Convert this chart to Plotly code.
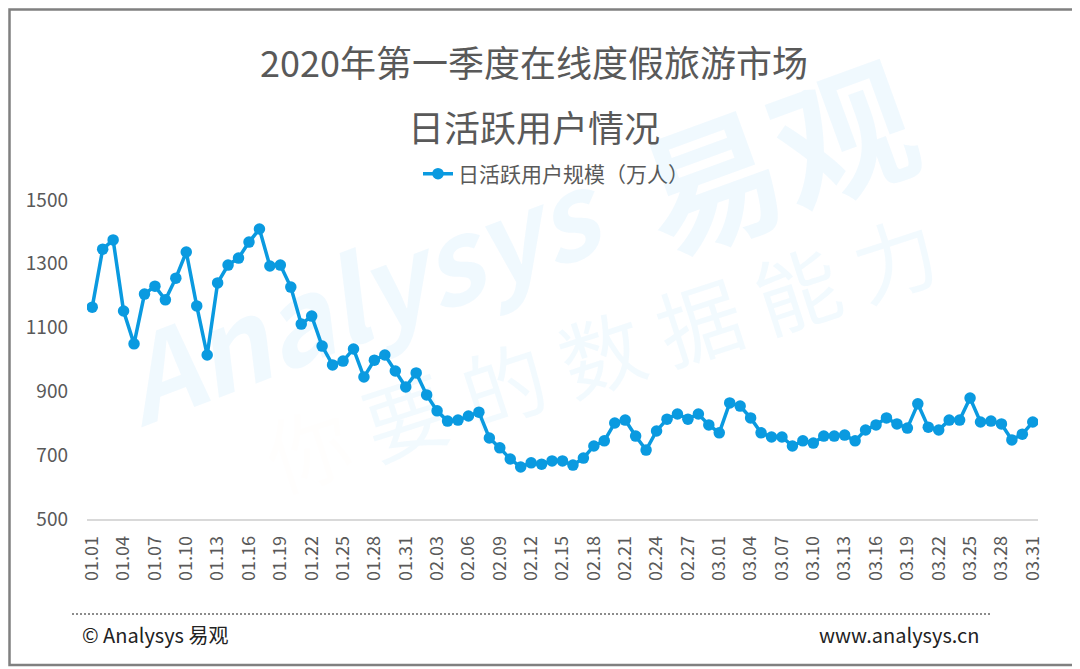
import plotly.graph_objects as go

# 日期 01.01 - 03.31 (2020, 共91天)
month_days = [("01", 31), ("02", 29), ("03", 31)]
dates = [f"{m}.{d:02d}" for m, n in month_days for d in range(1, n + 1)]

# 日活跃用户规模（万人）
dau = [
    1164, 1346, 1375, 1152, 1049, 1205, 1230, 1187, 1255, 1337,
    1168, 1014, 1240, 1296, 1318, 1368, 1409, 1293, 1296, 1227,
    1111, 1136, 1042, 983, 995, 1033, 945, 998, 1014, 964,
    914, 958, 889, 839, 807, 810, 823, 835, 754, 723,
    688, 663, 676, 672, 682, 682, 669, 691, 729, 745,
    801, 810, 760, 716, 776, 813, 829, 813, 829, 795,
    770, 864, 854, 817, 770, 757, 757, 729, 745, 738,
    760, 760, 763, 745, 779, 795, 817, 798, 785, 861,
    788, 779, 810, 810, 879, 804, 807, 798, 748, 766,
    804,
]
tick_labels = dates[::3]

# 页面 body 有 8px 边距，图像尺寸与坐标都减去它
OFF = 8
W, H = 1080 - OFF, 669 - OFF
L, R, T, B = 87 - OFF, 42, 200 - OFF, 150
font_cn = "Noto Sans CJK SC"
grey = "#595959"
blue = "#0a9ae0"


def px(x):  # 屏幕像素 -> paper x
    return (x - OFF - L) / (W - L - R)


def py(y):  # 屏幕像素 -> paper y
    return (H - B - (y - OFF)) / (H - T - B)


fig = go.Figure()
fig.add_trace(go.Scatter(
    x=dates, y=dau,
    mode="lines+markers",
    name="日活跃用户规模（万人）",
    line=dict(color=blue, width=3.5),
    marker=dict(color=blue, size=11.5),
))

# 水印
wm_blue = "rgba(0,160,230,0.06)"
wm = [
    dict(text="<b><i>Analysys</i></b>", x=360, y=290, size=115, angle=-21, color=wm_blue),
    dict(text="<b>易观</b>", x=775, y=152, size=140, angle=-20, color=wm_blue),
    dict(text="<span style='color:rgba(250,160,60,0.13)'>你</span> 要 的 数 据 能 力",
         x=600, y=350, size=84, angle=-18, color="rgba(0,160,230,0.05)"),
]
annotations = [
    dict(text=w["text"], x=px(w["x"]), y=py(w["y"]), xref="paper", yref="paper",
         xanchor="center", yanchor="middle", showarrow=False, textangle=w["angle"],
         font=dict(family=font_cn, size=w["size"], color=w["color"]))
    for w in wm
]
annotations += [
    dict(text="2020年第一季度在线度假旅游市场", x=px(534), y=py(61), xref="paper", yref="paper",
         xanchor="center", yanchor="middle", showarrow=False,
         font=dict(family=font_cn, size=36, color=grey)),
    dict(text="日活跃用户情况", x=px(534), y=py(126), xref="paper", yref="paper",
         xanchor="center", yanchor="middle", showarrow=False,
         font=dict(family=font_cn, size=36, color=grey)),
    dict(text="© Analysys 易观", x=px(80), y=py(634), xref="paper", yref="paper",
         xanchor="left", yanchor="middle", showarrow=False,
         font=dict(family=font_cn, size=20, color="#222222")),
    dict(text="www.analysys.cn", x=px(981), y=py(634), xref="paper", yref="paper",
         xanchor="right", yanchor="middle", showarrow=False,
         font=dict(family=font_cn, size=20, color="#222222")),
]

shapes = [
    dict(type="rect", xref="paper", yref="paper",
         x0=px(OFF + 1.5), x1=px(1074), y0=py(OFF + 1.5), y1=py(665),
         line=dict(color="#808080", width=2.5), layer="below"),
    dict(type="line", xref="paper", yref="paper",
         x0=px(72), x1=px(990), y0=py(614), y1=py(614),
         line=dict(color="#8c8c8c", width=2, dash="2px,2px")),
]

fig.update_layout(
    width=W, height=H,
    margin=dict(l=L, r=R, t=T, b=B),
    paper_bgcolor="white", plot_bgcolor="white",
    font=dict(family=font_cn, color=grey),
    showlegend=True,
    legend=dict(orientation="h", x=px(556), xanchor="center", y=py(174), yanchor="middle",
                font=dict(family=font_cn, size=21, color=grey)),
    annotations=annotations,
    shapes=shapes,
    xaxis=dict(
        type="category", range=[-0.5, len(dates) - 0.5],
        tickmode="array", tickvals=tick_labels, ticktext=tick_labels,
        tickangle=-90, tickfont=dict(size=18, color=grey),
        showgrid=False, showline=True, linecolor="#d9d9d9", linewidth=1.5,
        ticks="", ticklabelstandoff=8,
    ),
    yaxis=dict(
        range=[500, 1500], tickvals=[500, 700, 900, 1100, 1300, 1500],
        tickfont=dict(size=19, color=grey), showgrid=False, zeroline=False,
        showline=False, ticks="", ticklabelstandoff=18,
    ),
)

fig.write_html("out.html")
